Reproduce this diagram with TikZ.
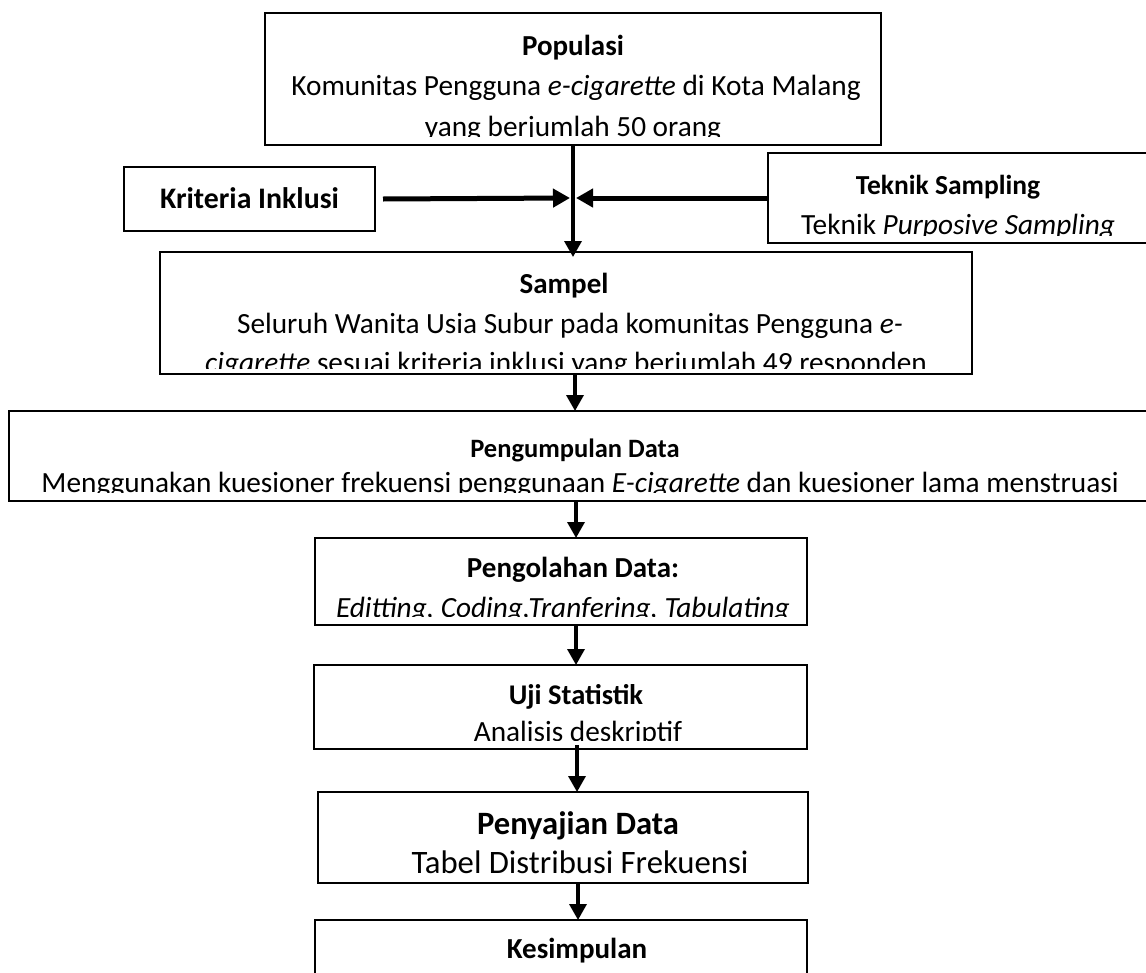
\documentclass[tikz,border=0pt]{standalone}
\usepackage{fontspec}
\setmainfont{Carlito}
\usetikzlibrary{arrows.meta}
\tikzset{
  box/.style={draw, line width=2.8pt, inner sep=0pt, outer sep=0pt},
  ttl/.style={anchor=base, inner sep=0pt, font=\fontsize{29}{34}\selectfont\bfseries},
  txt/.style={anchor=base, inner sep=0pt, font=\fontsize{29.3}{34}\selectfont},
  varr/.style={line width=3.4pt, -{Triangle[length=16pt,width=17pt]}},
  harr/.style={line width=5pt, -{Triangle[length=17pt,width=18pt]}},
}
\begin{document}
\begin{tikzpicture}[x=1pt,y=-1pt]
\useasboundingbox (0,0) rectangle (1146,972);
\clip (0,0) rectangle (1146,972);
% boxes
\node[box, minimum width=616pt, minimum height=132pt] (pop) at (573,79) {};
\node[box, minimum width=251pt, minimum height=64pt] (kri) at (249.5,199) {};
\node[box, minimum width=392pt, minimum height=90pt] (tek) at (964,198) {};
\node[box, minimum width=812pt, minimum height=122pt] (sam) at (566,313) {};
\node[box, minimum width=1141pt, minimum height=90pt] (peng) at (579.5,456) {};
\node[box, minimum width=492pt, minimum height=87pt] (olah) at (561,581.5) {};
\node[box, minimum width=493pt, minimum height=84pt] (uji) at (560.5,707) {};
\node[box, minimum width=490pt, minimum height=91pt] (saji) at (563,837.5) {};
\node[box, minimum width=492pt, minimum height=70pt] (kes) at (561,955) {};
% texts
\begin{scope}
\clip (265,13) rectangle (881,136);
\node[ttl] (popT) at (573,55) {Populasi};
\node[txt] (popA) at (576,95) {Komunitas Pengguna \textit{e-cigarette} di Kota Malang};
\node[txt] (popB) at (573,136) {yang berjumlah 50 orang};
\end{scope}
\node[ttl, font=\fontsize{29.8}{35}\selectfont\bfseries] (kriT) at (249.5,208) {Kriteria Inklusi};
\begin{scope}
\clip (768,153) rectangle (1146,235);
\node[ttl, font=\fontsize{27.5}{33}\selectfont\bfseries] (tekT) at (948,194) {Teknik Sampling};
\node[txt] (tekA) at (958,234) {Teknik \textit{Purposive Sampling}};
\end{scope}
\begin{scope}
\clip (160,252) rectangle (972,368);
\node[ttl] (samT) at (564,293) {Sampel};
\node[txt] (samA) at (570,333) {Seluruh Wanita Usia Subur pada komunitas Pengguna \textit{e-}};
\node[txt] (samB) at (566,372) {\textit{cigarette} sesuai kriteria inklusi yang berjumlah 49 responden};
\end{scope}
\begin{scope}
\clip (9,411) rectangle (1146,492);
\node[ttl, font=\fontsize{26.5}{31}\selectfont\bfseries] (pengT) at (575,457) {Pengumpulan Data};
\node[txt] (pengA) at (580,492) {Menggunakan kuesioner frekuensi penggunaan \textit{E-cigarette} dan kuesioner lama menstruasi};
\end{scope}
\begin{scope}
\clip (315,538) rectangle (807,616);
\node[ttl] (olahT) at (573,577) {Pengolahan Data:};
\node[txt] (olahA) at (563,617) {\textit{Editting, Coding,Tranfering, Tabulating}};
\end{scope}
\begin{scope}
\clip (314,665) rectangle (807,740);
\node[ttl, font=\fontsize{28.5}{34}\selectfont\bfseries] (ujiT) at (576,704) {Uji Statistik};
\node[txt] (ujiA) at (578,741) {Analisis deskriptif};
\end{scope}
\node[ttl, font=\fontsize{32.6}{38}\selectfont\bfseries] (sajiT) at (578,834) {Penyajian Data};
\node[txt, font=\fontsize{32.7}{38}\selectfont] (sajiA) at (580,873) {Tabel Distribusi Frekuensi};
\node[ttl] (kesT) at (577,958) {Kesimpulan};
% connectors
\coordinate (j) at (573,198);
\draw[varr, shorten >=-5pt] (pop.south -| j) -- (j |- sam.north);
\draw[harr] ([xshift=8pt]kri.east) -- ([xshift=-3pt]j);
\draw[harr] (tek.west) -- ([xshift=3pt]j);
\draw[varr] (sam.south -| 575,0) -- (peng.north -| 575,0);
\draw[varr] (peng.south -| 576,0) -- (olah.north -| 576,0);
\draw[varr] (olah.south -| 576,0) -- (uji.north -| 576,0);
\draw[varr] ([yshift=4pt]uji.south -| 577,0) -- (saji.north -| 577,0);
\draw[varr] (saji.south -| 578,0) -- (kes.north -| 578,0);
\end{tikzpicture}
\end{document}
